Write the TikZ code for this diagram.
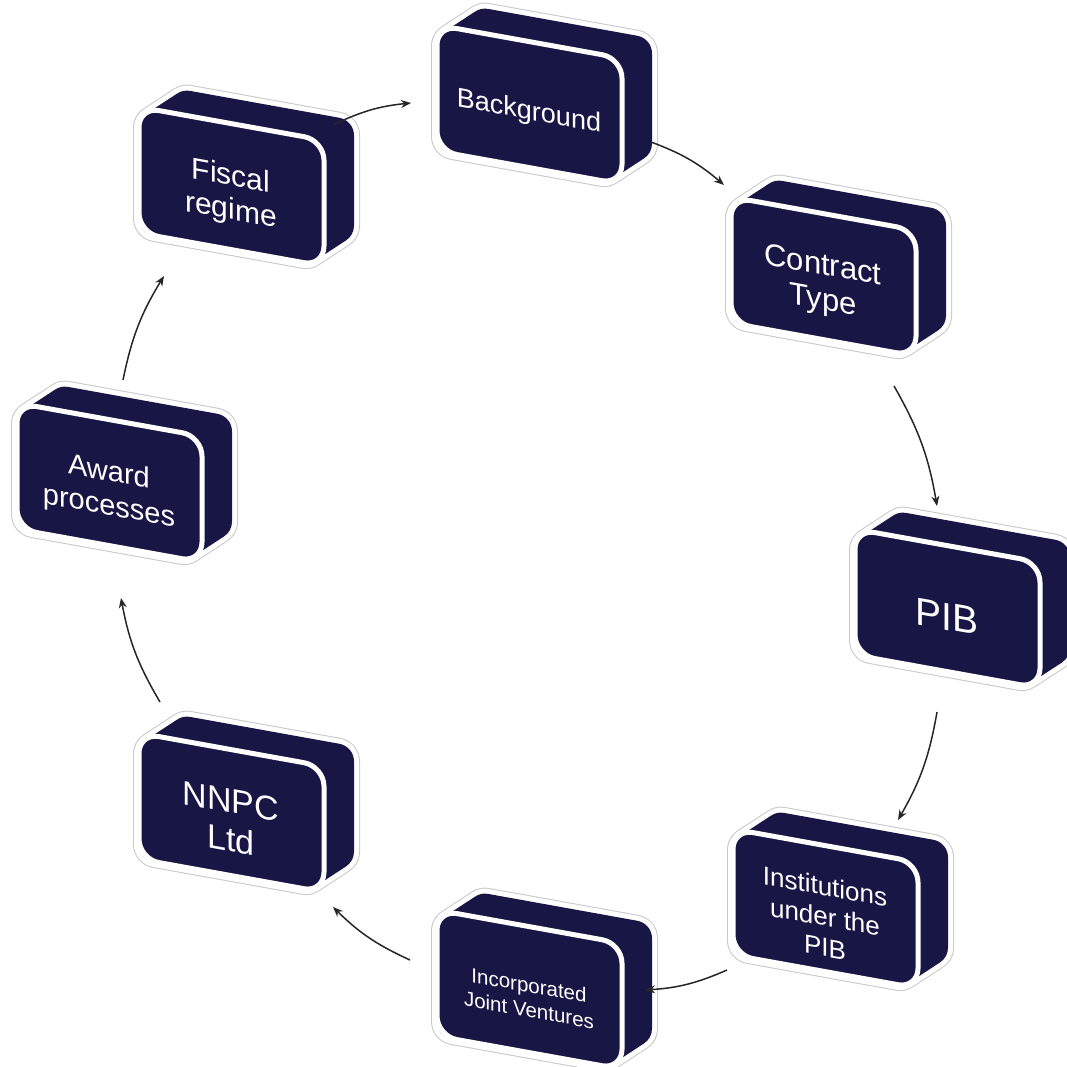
\documentclass[tikz,border=0pt]{standalone}
\usepackage{fontspec}
\setmainfont{Liberation Sans}
\usetikzlibrary{arrows.meta}
\definecolor{navy}{RGB}{23,22,69}
\definecolor{halogray}{RGB}{200,200,200}
\tikzset{
  boxtext/.style={text=white, align=center, inner sep=0pt, transform shape},
  flow/.style={-{Stealth[length=10pt,width=8pt]}, line width=1.5pt, draw=black!85, bend left=10},
}
\def\hullpath{(18,18) -- (48,-7) -- (197,-7) -- (197,83) -- (167,108) -- (18,108) -- cycle}
% #1 name, #2 x, #3 y (front face top-left), #4 size, #5 skip, #6 text
\newcommand{\cubebox}[6]{%
  \begin{scope}[shift={(#2,#3)}, yslant=-0.18]
    \filldraw[halogray, line width=48pt, line join=round] \hullpath;
    \filldraw[white, line width=46pt, line join=round] \hullpath;
    \filldraw[navy, line width=36pt, line join=round] \hullpath;
    \filldraw[fill=navy, draw=white, line width=5pt, rounded corners=20pt] (0,0) rectangle (185,126);
    \node[boxtext, font=\fontsize{#4}{#5}\selectfont] (#1) at (92,71) {#6};
  \end{scope}}
\begin{document}
\begin{tikzpicture}[x=1pt, y=-1pt]
\useasboundingbox (0,0) rectangle (1066,1067);
\cubebox{bg}{437}{25}{27}{31}{Background}
\cubebox{ct}{731}{197}{31}{35}{Contract\\Type}
\cubebox{pib}{855}{529}{39}{44}{PIB}
\cubebox{inst}{733}{829}{26}{30.5}{Institutions\\under the\\PIB}
\cubebox{ijv}{437}{910}{20.5}{25}{Incorporated\\Joint Ventures}
\cubebox{nnpc}{139}{733}{34}{39}{NNPC\\Ltd}
\cubebox{aw}{17}{403}{29}{34}{Award\\processes}
\cubebox{fr}{139}{107}{30}{34}{Fiscal\\regime}
% arrow end points
\coordinate (a1s) at (333,125); \coordinate (a1e) at (411,103);
\coordinate (a2s) at (651,142); \coordinate (a2e) at (724,185);
\coordinate (a3s) at (894,386); \coordinate (a3e) at (937,506);
\coordinate (a4s) at (937,712); \coordinate (a4e) at (898,820);
\coordinate (a5s) at (727,970); \coordinate (a5e) at (645,990);
\coordinate (a6s) at (410,960); \coordinate (a6e) at (333,907);
\coordinate (a7s) at (160,702); \coordinate (a7e) at (121,598);
\coordinate (a8s) at (123,380); \coordinate (a8e) at (164,276);
\draw[flow] (a1s) to (a1e);
\draw[flow] (a2s) to (a2e);
\draw[flow] (a3s) to (a3e);
\draw[flow] (a4s) to (a4e);
\draw[flow] (a5s) to (a5e);
\draw[flow] (a6s) to (a6e);
\draw[flow] (a7s) to (a7e);
\draw[flow] (a8s) to (a8e);
\end{tikzpicture}
\end{document}
